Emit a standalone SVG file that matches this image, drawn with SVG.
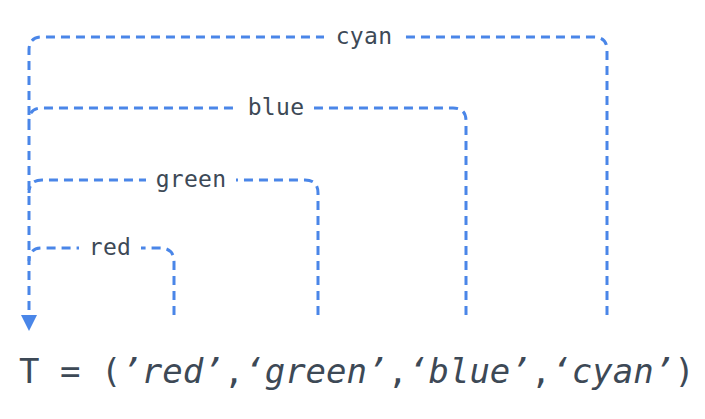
<svg xmlns="http://www.w3.org/2000/svg" width="705" height="419" viewBox="0 0 705 419">
<style>
.c{fill:none;stroke:#4a86e8;stroke-width:3;stroke-dasharray:9 6}
.lbl{font-family:"DejaVu Sans Mono",monospace;font-size:23px;letter-spacing:0.3px;fill:#3d4956;text-anchor:middle}
.bg{fill:#ffffff}
.eq{font-family:"DejaVu Sans Mono",monospace;font-size:34px;fill:#3d4956}
.ah{fill:#4a86e8}
</style>
<g id="connectors">
<path class="c" d="M607,315 V50 Q607,37 594,37 H42 Q29,37 29,50 V318"/>
<path class="c" d="M466,315 V121 Q466,108 453,108 H42 Q29,108 29,121"/>
<path class="c" d="M318,315 V193 Q318,180 305,180 H42 Q29,180 29,193"/>
<path class="c" d="M174,315 V262 Q174,248 160,248 H42 Q29,248 29,261"/>
<polygon class="ah" points="21,315 37,315 29,331"/>
</g>
<g id="label-cyan">
<rect class="bg" x="324" y="26" width="80" height="22"/>
<text class="lbl" x="364" y="44">cyan</text>
</g>
<g id="label-blue">
<rect class="bg" x="238" y="97" width="76" height="22"/>
<text class="lbl" x="276" y="115">blue</text>
</g>
<g id="label-green">
<rect class="bg" x="146" y="169" width="90" height="22"/>
<text class="lbl" x="191" y="187">green</text>
</g>
<g id="label-red">
<rect class="bg" x="79" y="237" width="62" height="22"/>
<text class="lbl" x="110" y="255">red</text>
</g>
<g id="tuple">
<text class="eq" x="19" y="383">T = (<tspan font-style="italic">’red’</tspan>,<tspan font-style="italic">‘green’</tspan>,<tspan font-style="italic">‘blue’</tspan>,<tspan font-style="italic">‘cyan’</tspan>)</text>
</g>
</svg>
